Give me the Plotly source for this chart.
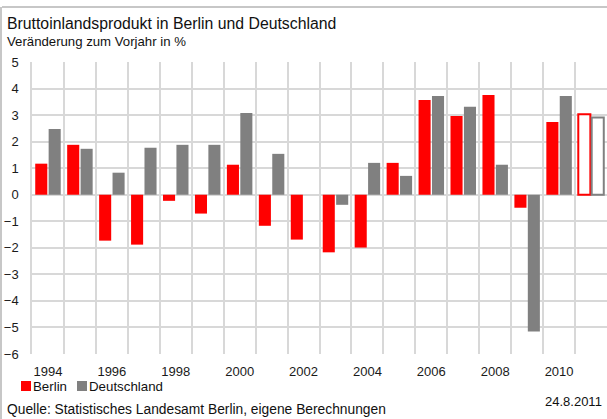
import plotly.graph_objects as go

# ---- data ----
years = list(range(1994, 2012))
berlin = [1.17, 1.88, -1.73, -1.88, -0.23, -0.71, 1.13, -1.17, -1.69,
          -2.17, -1.99, 1.20, 3.57, 2.97, 3.76, -0.49, 2.74, 3.03]
deutschland = [2.48, 1.73, 0.83, 1.77, 1.88, 1.88, 3.08, 1.54, 0.0,
               -0.38, 1.20, 0.71, 3.72, 3.31, 1.13, -5.15, 3.72, 2.91]
forecast = [False] * 17 + [True]   # 2011 drawn as outline
tick_years = [1994, 1996, 1998, 2000, 2002, 2004, 2006, 2008, 2010]
tick_labels = [str(y) for y in tick_years]
y_ticks = list(range(-6, 6))

RED = "#ff0000"
GREY = "#808080"
GRID = "#d8d8d8"
FONT = "Liberation Sans, Arial, sans-serif"

W, H = 607, 419
L, R, T, B = 32, 0, 62, 65
PW, PH = W - L - R, H - T - B


def px(x):
    return (x - L) / PW


def py(y):
    return (H - B - y) / PH


def series(vals, color, name):
    return go.Bar(
        x=years, y=vals, name=name, showlegend=False,
        marker=dict(
            color=["white" if f else color for f in forecast],
            line=dict(color=color, width=[2 if f else 0 for f in forecast]),
        ),
    )


fig = go.Figure()
fig.add_trace(series(berlin, RED, "Berlin"))
fig.add_trace(series(deutschland, GREY, "Deutschland"))

fig.update_layout(
    width=W, height=H, autosize=False,
    margin=dict(l=L, r=R, t=T, b=B, pad=0),
    paper_bgcolor="white", plot_bgcolor="white",
    barmode="group", bargap=0.16, bargroupgap=0.1,
    font=dict(family=FONT, size=13, color="#1a1a1a"),
    xaxis=dict(
        range=[years[0] - 0.5, years[-1] + 0.5],
        tickmode="array", tickvals=tick_years, ticktext=tick_labels,
        showgrid=False, zeroline=False, showline=False,
        ticks="outside", ticklen=5, tickcolor="rgba(0,0,0,0)",
        tickfont=dict(size=13),
        minor=dict(tickmode="array",
                   tickvals=[y - 0.5 for y in years] + [years[-1] + 0.5],
                   showgrid=True, gridcolor=GRID, gridwidth=1.5, ticks=""),
    ),
    yaxis=dict(
        range=[-6, 5], tickmode="array", tickvals=y_ticks,
        showgrid=True, gridcolor=GRID, gridwidth=1.5,
        zeroline=True, zerolinecolor=GRID, zerolinewidth=1.5,
        showline=True, linecolor=GRID, linewidth=1.5,
        ticks="outside", ticklen=9, tickcolor="rgba(0,0,0,0)",
        tickfont=dict(size=13),
    ),
)

# frame lines
fig.add_shape(type="line", xref="paper", yref="paper",
              x0=px(2), x1=px(W), y0=py(7), y1=py(7),
              line=dict(color="#b4b4b4", width=1.5))
fig.add_shape(type="line", xref="paper", yref="paper",
              x0=px(1), x1=px(1), y0=py(7), y1=py(H),
              line=dict(color="#b4b4b4", width=1.5))

# titles
fig.add_annotation(text="Bruttoinlandsprodukt in Berlin und Deutschland",
                   xref="paper", yref="paper", x=px(5), y=py(23),
                   xanchor="left", yanchor="middle", showarrow=False,
                   font=dict(size=15.8, color="#111"))
fig.add_annotation(text="Veränderung zum Vorjahr in %",
                   xref="paper", yref="paper", x=px(5), y=py(42),
                   xanchor="left", yanchor="middle", showarrow=False,
                   font=dict(size=13.2, color="#111"))

# legend
for (x0, col, name) in [(21, RED, "Berlin"), (77, GREY, "Deutschland")]:
    fig.add_shape(type="rect", xref="paper", yref="paper",
                  x0=px(x0), x1=px(x0 + 10), y0=py(391), y1=py(381),
                  fillcolor=col, line=dict(width=0))
    fig.add_annotation(text=name, xref="paper", yref="paper",
                       x=px(x0 + 10), y=py(386), xanchor="left",
                       yanchor="middle", showarrow=False,
                       font=dict(size=13.3, color="#111"))

# source and date
fig.add_annotation(text="Quelle: Statistisches Landesamt Berlin, eigene Berechnungen",
                   xref="paper", yref="paper", x=px(5), y=py(409),
                   xanchor="left", yanchor="middle", showarrow=False,
                   font=dict(size=13.8, color="#111"))
fig.add_annotation(text="24.8.2011", xref="paper", yref="paper",
                   x=px(604), y=py(401), xanchor="right", yanchor="middle",
                   showarrow=False, font=dict(size=13, color="#111"))

fig.write_html("out.html",
               config={"displayModeBar": False},
               post_script="document.body.style.margin='0';"
                           "document.body.style.overflow='hidden';")
